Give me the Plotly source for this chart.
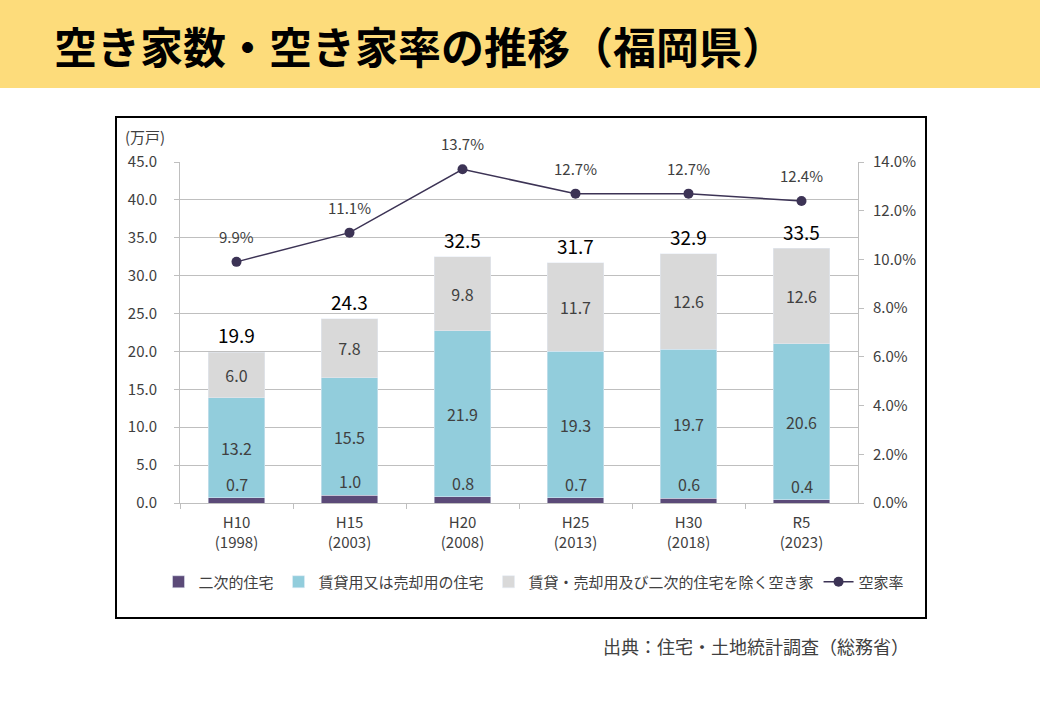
import plotly.graph_objects as go

categories = ["H10<br>(1998)", "H15<br>(2003)", "H20<br>(2008)", "H25<br>(2013)", "H30<br>(2018)", "R5<br>(2023)"]
secondary = [0.7, 1.0, 0.8, 0.7, 0.6, 0.4]
rental_sale = [13.2, 15.5, 21.9, 19.3, 19.7, 20.6]
other_vacant = [6.0, 7.8, 9.8, 11.7, 12.6, 12.6]
totals = [19.9, 24.3, 32.5, 31.7, 32.9, 33.5]
vacancy_rate = [0.099, 0.111, 0.137, 0.127, 0.127, 0.124]

names = ["二次的住宅", "賃貸用又は売却用の住宅", "賃貸・売却用及び二次的住宅を除く空き家", "空家率"]
colors = ["#5B4A78", "#92CDDC", "#D9D9D9", "#3C3355"]

FONT = "Noto Sans CJK JP"
W, H = 1040, 720
px = lambda v: v / W
py = lambda v: 1 - v / H

fig = go.Figure()
fig.add_trace(go.Bar(x=categories, y=secondary, name=names[0], marker_color=colors[0],
                     width=0.5, hoverinfo="y"))
fig.add_trace(go.Bar(x=categories, y=rental_sale, name=names[1], marker_color=colors[1],
                     width=0.5, text=[f"{v:.1f}" for v in rental_sale], textposition="inside",
                     insidetextanchor="middle", textangle=0,
                     textfont=dict(size=16, color="#404040", family=FONT)))
fig.add_trace(go.Bar(x=categories, y=other_vacant, name=names[2], marker_color=colors[2],
                     width=0.5, text=[f"{v:.1f}" for v in other_vacant], textposition="inside",
                     insidetextanchor="middle", textangle=0,
                     textfont=dict(size=16, color="#404040", family=FONT)))
fig.add_trace(go.Scatter(x=categories, y=vacancy_rate, name=names[3], yaxis="y2",
                         mode="lines+markers", line=dict(color=colors[3], width=1.5),
                         marker=dict(size=10, color=colors[3])))

for c, v in zip(categories, secondary):
    fig.add_annotation(x=c, y=v, yref="y", text=f"{v:.1f}", showarrow=False,
                       yanchor="bottom", yshift=0,
                       font=dict(size=16, color="#404040", family=FONT))
for c, v in zip(categories, totals):
    fig.add_annotation(x=c, y=v, yref="y", text=f"{v:.1f}", showarrow=False,
                       yanchor="bottom", yshift=2,
                       font=dict(size=19, color="#000000", family=FONT))
for c, v in zip(categories, vacancy_rate):
    fig.add_annotation(x=c, y=v, yref="y2", text=f"{v*100:.1f}%", showarrow=False,
                       yanchor="bottom", yshift=13,
                       font=dict(size=15, color="#404040", family=FONT))

fig.add_shape(type="rect", xref="paper", yref="paper", x0=0, x1=1, y0=py(88), y1=1,
              fillcolor="#FDDC7B", line=dict(width=0), layer="below")
fig.add_shape(type="rect", xref="paper", yref="paper", x0=px(116), x1=px(926),
              y0=py(618), y1=py(117), line=dict(color="#000000", width=2),
              fillcolor="rgba(0,0,0,0)")

fig.add_annotation(xref="paper", yref="paper", x=px(52), y=py(45), xanchor="left",
                   yanchor="middle", showarrow=False,
                   text="<b>空き家数・空き家率の推移（福岡県）</b>",
                   font=dict(size=43, color="#000000", family=FONT))
fig.add_annotation(xref="paper", yref="paper", x=px(123), y=py(136), xanchor="left",
                   yanchor="middle", showarrow=False, text="(万戸)",
                   font=dict(size=15, color="#404040", family=FONT))
fig.add_annotation(xref="paper", yref="paper", x=px(911), y=py(646), xanchor="right",
                   yanchor="middle", showarrow=False, text="出典：住宅・土地統計調査（総務省）",
                   font=dict(size=18, color="#404040", family=FONT))

grid = "#BFBFBF"
fig.update_layout(
    width=W, height=H, autosize=False, barmode="stack",
    margin=dict(l=0, r=0, t=0, b=0, pad=0),
    paper_bgcolor="white", plot_bgcolor="white",
    font=dict(family=FONT, color="#404040", size=14),
    xaxis=dict(domain=[px(180), px(858)], showline=True, linecolor=grid, linewidth=1,
               ticks="outside", tickson="boundaries", tickcolor=grid, ticklen=5,
               ticklabelstandoff=6,
               tickfont=dict(size=15, color="#404040"), automargin=False),
    yaxis=dict(range=[0, 45], dtick=5, tickformat=".1f", domain=[1 - 503 / H, 1 - 162 / H],
               showgrid=True, gridcolor=grid, gridwidth=1, showline=True, linecolor=grid,
               ticks="outside", tickcolor=grid, ticklen=5, zeroline=False,
               ticklabelstandoff=14,
               tickfont=dict(size=15, color="#404040"), automargin=False),
    yaxis2=dict(range=[0, 0.14], dtick=0.02, tickformat=".1%", overlaying="y", side="right",
                showgrid=False, showline=True, linecolor=grid, ticks="outside",
                tickcolor=grid, ticklen=5, zeroline=False, ticklabelstandoff=6,
                tickfont=dict(size=15, color="#404040"), automargin=False),
    legend=dict(orientation="h", x=px(534), xanchor="center", y=py(582), yanchor="middle",
                font=dict(size=15, color="#404040", family=FONT), traceorder="normal",
                itemwidth=30, bgcolor="rgba(0,0,0,0)"),
    showlegend=True,
)

fig.write_html("out.html", config={"responsive": False, "displayModeBar": False},
               post_script="document.body.style.margin='0';document.body.style.overflow='hidden';")
